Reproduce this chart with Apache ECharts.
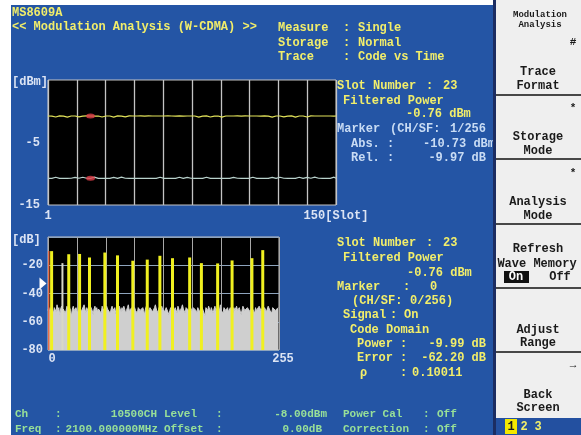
<!DOCTYPE html>
<html><head><meta charset="utf-8">
<script src="https://cdn.jsdelivr.net/npm/echarts/dist/echarts.min.js"></script>
<style>html,body{margin:0;padding:0;background:#fff}#c{width:581px;height:435px}</style>
</head><body><div id="c"></div>
<script>
// ---------- DATA ----------
const slotFirst = 1, slotLast = 150;
const markerSlot = 23;
// Filtered power per slot (dBm)
const filteredPower = [
-0.76,-0.75,-0.77,-0.76,-0.92,-0.76,-0.74,-0.76,-0.77,-0.76,-0.93,-0.75,-0.76,-0.77,-0.76,
-0.75,-0.91,-0.76,-0.77,-0.76,-0.75,-0.76,-0.76,-0.94,-0.77,-0.75,-0.76,-0.76,-0.92,-0.77,
-0.76,-0.75,-0.76,-0.77,-0.93,-0.76,-0.75,-0.76,-0.77,-0.76,-0.91,-0.76,-0.75,-0.77,-0.76,
-0.77,-0.76,-0.92,-0.75,-0.76,-0.77,-0.76,-0.75,-0.94,-0.76,-0.77,-0.76,-0.75,-0.76,-0.93,
-0.76,-0.77,-0.75,-0.76,-0.76,-0.92,-0.77,-0.76,-0.75,-0.76,-0.77,-0.91,-0.76,-0.75,-0.76,
-0.77,-0.76,-0.75,-0.93,-0.76,-0.77,-0.76,-0.75,-0.76,-0.92,-0.76,-0.77,-0.75,-0.76,-0.76,
-0.94,-0.77,-0.76,-0.75,-0.76,-0.77,-0.76,-0.91,-0.75,-0.76,-0.77,-0.76,-0.75,-0.93,-0.76,
-0.77,-0.76,-0.75,-0.76,-0.92,-0.77,-0.76,-0.75,-0.76,-0.77,-0.76,-0.94,-0.75,-0.76,-0.77,
-0.76,-0.75,-0.91,-0.76,-0.77,-0.76,-0.75,-0.76,-0.93,-0.77,-0.76,-0.75,-0.76,-0.77,-0.92,
-0.76,-0.75,-0.77,-0.76,-0.93,-0.76,-0.75,-0.76,-0.77,-0.76,-0.91,-0.76,-0.75,-0.77,-0.76];
// Marker channel (CH/SF 1/256) absolute power per slot (dBm)
const markerChPower = [
-10.73,-10.72,-10.74,-10.73,-10.56,-10.73,-10.74,-10.72,-10.73,-10.55,-10.73,-10.74,-10.72,-10.73,-10.57,
-10.73,-10.72,-10.74,-10.56,-10.73,-10.72,-10.74,-10.73,-10.73,-10.55,-10.72,-10.74,-10.73,-10.73,-10.56,
-10.72,-10.73,-10.74,-10.73,-10.57,-10.72,-10.73,-10.74,-10.55,-10.73,-10.72,-10.73,-10.74,-10.56,-10.73,
-10.74,-10.72,-10.55,-10.73,-10.73,-10.74,-10.72,-10.73,-10.57,-10.73,-10.72,-10.74,-10.73,-10.56,-10.72,
-10.73,-10.74,-10.73,-10.55,-10.72,-10.73,-10.74,-10.73,-10.56,-10.72,-10.73,-10.74,-10.57,-10.73,-10.72,
-10.74,-10.73,-10.55,-10.72,-10.73,-10.74,-10.73,-10.56,-10.72,-10.73,-10.74,-10.73,-10.55,-10.72,-10.73,
-10.74,-10.56,-10.73,-10.72,-10.73,-10.74,-10.57,-10.73,-10.72,-10.73,-10.74,-10.55,-10.73,-10.72,-10.74,
-10.73,-10.56,-10.72,-10.73,-10.74,-10.73,-10.55,-10.72,-10.73,-10.74,-10.73,-10.57,-10.72,-10.73,-10.74,
-10.56,-10.73,-10.72,-10.74,-10.73,-10.55,-10.72,-10.73,-10.74,-10.73,-10.56,-10.72,-10.73,-10.74,-10.57,
-10.73,-10.72,-10.74,-10.55,-10.73,-10.72,-10.73,-10.74,-10.56,-10.73,-10.72,-10.74,-10.73,-10.55,-10.73];
// Code domain: noise floor per code 0..255 (dB)
const codeNoise = [
-52,-50,-53,-51,-49,-52,-54,-50,-51,-53,-48,-52,-50,-55,-51,-49,
-53,-51,-50,-54,-52,-49,-51,-53,-50,-52,-56,-51,-49,-52,-53,-50,
-51,-54,-52,-49,-50,-53,-51,-52,-48,-51,-54,-50,-52,-51,-53,-49,
-50,-52,-55,-51,-49,-52,-50,-53,-51,-50,-52,-54,-49,-51,-52,-50,
-53,-49,-51,-52,-50,-54,-51,-49,-52,-53,-50,-51,-57,-50,-52,-49,
-51,-53,-50,-52,-49,-51,-54,-52,-50,-48,-52,-51,-53,-50,-49,-52,
-50,-52,-51,-54,-50,-49,-52,-51,-53,-50,-52,-55,-51,-49,-50,-53,
-52,-50,-49,-51,-53,-52,-50,-48,-51,-52,-54,-50,-51,-53,-49,-51,
-51,-53,-52,-50,-49,-51,-55,-52,-50,-51,-49,-53,-52,-50,-51,-54,
-49,-51,-53,-52,-50,-48,-51,-52,-54,-50,-51,-49,-52,-53,-50,-51,
-53,-50,-51,-49,-52,-54,-50,-51,-53,-52,-49,-50,-52,-51,-56,-50,
-50,-52,-49,-51,-53,-50,-52,-54,-51,-49,-52,-53,-50,-51,-52,-48,
-52,-51,-54,-50,-49,-52,-51,-50,-53,-52,-50,-49,-51,-54,-50,-52,
-51,-49,-52,-53,-50,-51,-55,-52,-49,-50,-52,-51,-53,-50,-49,-51,
-53,-52,-50,-49,-51,-54,-50,-52,-51,-53,-49,-50,-52,-51,-50,-53,
-50,-51,-53,-52,-49,-50,-52,-51,-54,-50,-51,-49,-52,-53,-51,-50];
// Active channels (code, power dB)
const activeCodes  = [4, 23, 35, 46, 63, 77, 94, 110, 124, 138, 157, 170, 188, 204, 226, 238];
const activePowers = [-10, -12.2, -12, -14.5, -11, -13, -16.8, -16, -13.3, -15, -14.5, -18.5, -18.7, -16.6, -15, -9.3];
const weakCodes  = [16];
const weakPowers = [-18.5];
const markerCode = 0, markerCodePower = -9.99;
const thresholdLevel = -33;
// tick labels
const topYLabels = {'-15': '-15', '-5': '-5'};
const botYLabels = {'-20': '-20', '-40': '-40', '-60': '-60', '-80': '-80'};
const botXLabels = {'0': '0', '256': '255'};

// ---------- STYLE ----------
const MONO = '"Liberation Mono","DejaVu Sans Mono",monospace';
const BLUE = '#2455a5';
const YEL = '#f2ee6a';
const LBL = '#c9dcf4';
const GRN = '#98e098';
const AX = '#dce4f4';
const DARK = '#1a1a1a';
const F12 = 'bold 12px ' + MONO;
const F11 = 'bold 11px ' + MONO;

function T(text, x, y, fill, font, align, z) {
  return {type: 'text', x: x, y: y, z: z || 90,
    style: {text: text, fill: fill, font: font || F12, textAlign: align || 'left', textVerticalAlign: 'middle'}};
}
function R(x, y, w, h, fill, z) {
  return {type: 'rect', z: z || 100, shape: {x: x, y: y, width: w, height: h}, style: {fill: fill}};
}
function L(x1, y1, x2, y2, stroke, w, z) {
  return {type: 'line', z: z || 101, shape: {x1: x1, y1: y1, x2: x2, y2: y2}, style: {stroke: stroke, lineWidth: w}};
}

const slots = [];
for (let s = slotFirst; s <= slotLast; s++) slots.push(String(s));

const graphics = [
  R(0, 0, 581, 5, '#ffffff'), R(0, 0, 11, 435, '#ffffff'),
  // header
  T('MS8609A', 12, 13, YEL), T('<< Modulation Analysis (W-CDMA) >>', 12, 27, YEL),
  T('Measure', 278, 28, YEL), T(':', 343, 28, YEL), T('Single', 358, 28, YEL),
  T('Storage', 278, 43, YEL), T(':', 343, 43, YEL), T('Normal', 358, 43, YEL),
  T('Trace', 278, 57, YEL), T(':', 343, 57, YEL), T('Code vs Time', 358, 57, YEL),
  // unit labels
  T('[dBm]', 12, 82, AX), T('[dB]', 12, 240, AX),
  // top info block
  T('Slot Number', 337, 86, YEL), T(':', 426, 86, YEL), T('23', 443, 86, YEL),
  T('Filtered Power', 343, 101, YEL), T('-0.76 dBm', 406, 114, YEL),
  T('Marker', 337, 129, LBL), T('(CH/SF:', 390, 129, LBL), T('1/256 )', 450, 129, LBL),
  T('Abs.', 351, 144, LBL), T(':', 387, 144, LBL), T('-10.73 dBm', 495, 144, LBL, F12, 'right'),
  T('Rel.', 351, 158, LBL), T(':', 387, 158, LBL), T('-9.97 dB', 486, 158, LBL, F12, 'right'),
  // bottom info block
  T('Slot Number', 337, 243, YEL), T(':', 426, 243, YEL), T('23', 443, 243, YEL),
  T('Filtered Power', 343, 258, YEL), T('-0.76 dBm', 407, 273, YEL),
  T('Marker', 337, 287, YEL), T(':', 403, 287, YEL), T('0', 430, 287, YEL),
  T('(CH/SF:', 352, 301, YEL), T('0/256)', 410, 301, YEL),
  T('Signal', 343, 315, YEL), T(':', 390, 315, YEL), T('On', 404, 315, YEL),
  T('Code Domain', 350, 330, YEL),
  T('Power', 357, 344, YEL), T(':', 400, 344, YEL), T('-9.99 dB', 486, 344, YEL, F12, 'right'),
  T('Error', 357, 358, YEL), T(':', 400, 358, YEL), T('-62.20 dB', 486, 358, YEL, F12, 'right'),
  T('\u03c1', 360, 373, YEL), T(':', 400, 373, YEL), T('0.10011', 412, 373, YEL),
  // status rows
  T('Ch', 15, 414, GRN, F11), T(':', 55, 414, GRN, F11), T('10500CH', 157, 414, GRN, F11, 'right'),
  T('Level', 164, 414, GRN, F11), T(':', 216, 414, GRN, F11), T('-8.00dBm', 327, 414, GRN, F11, 'right'),
  T('Power Cal', 343, 414, GRN, F11), T(':', 423, 414, GRN, F11), T('Off', 437, 414, GRN, F11),
  T('Freq', 15, 429, GRN, F11), T(':', 55, 429, GRN, F11), T('2100.000000MHz', 158, 429, GRN, F11, 'right'),
  T('Offset', 164, 429, GRN, F11), T(':', 216, 429, GRN, F11), T('0.00dB', 322, 429, GRN, F11, 'right'),
  T('Correction', 343, 429, GRN, F11), T(':', 423, 429, GRN, F11), T('Off', 437, 429, GRN, F11),
  // right soft-key panel
  R(493, 0, 3, 435, '#1c2d62', 100),
  R(496, 0, 85, 418, '#efefef', 100),
  R(496, 418, 85, 17, '#2350a0', 100),
  L(496, 95, 581, 95, '#111', 1.5), L(496, 159, 581, 159, '#111', 1.5), L(496, 224, 581, 224, '#111', 1.5),
  L(496, 288, 581, 288, '#111', 1.5), L(496, 352, 581, 352, '#111', 1.5),
  T('Modulation', 540, 15, DARK, 'bold 9px ' + MONO, 'center', 110),
  T('Analysis', 540, 25, DARK, 'bold 9px ' + MONO, 'center', 110),
  T('#', 573, 42, DARK, F11, 'center', 110),
  T('Trace', 538, 72, DARK, F12, 'center', 110), T('Format', 538, 86, DARK, F12, 'center', 110),
  T('*', 573, 108, DARK, F11, 'center', 110),
  T('Storage', 538, 137, DARK, F12, 'center', 110), T('Mode', 538, 151, DARK, F12, 'center', 110),
  T('*', 573, 173, DARK, F11, 'center', 110),
  T('Analysis', 538, 202, DARK, F12, 'center', 110), T('Mode', 538, 216, DARK, F12, 'center', 110),
  T('Refresh', 538, 249, DARK, F12, 'center', 110), T('Wave Memory', 537, 264, DARK, F12, 'center', 110),
  R(504, 271, 25, 12, '#111111', 105),
  T('On', 516, 277, '#ffffff', F12, 'center', 110), T('Off', 560, 277, DARK, F12, 'center', 110),
  T('Adjust', 538, 330, DARK, F12, 'center', 110), T('Range', 538, 343, DARK, F12, 'center', 110),
  T('\u2192', 573, 365, DARK, F11, 'center', 110),
  T('Back', 538, 395, DARK, F12, 'center', 110), T('Screen', 538, 408, DARK, F12, 'center', 110),
  R(505, 419, 12, 15, '#f4e800', 105),
  T('1', 511, 427, DARK, F12, 'center', 110), T('2', 524, 427, YEL, F12, 'center', 110), T('3', 538, 427, YEL, F12, 'center', 110)
];

const axLabel = {color: AX, fontFamily: MONO, fontWeight: 'bold', fontSize: 12};

function codeBars(codes, powers, color, width) {
  return {
    type: 'custom', xAxisIndex: 1, yAxisIndex: 1, z: 4, clip: true,
    data: codes.map((c, i) => [c, powers[i]]),
    renderItem: function (params, api) {
      const top = api.coord([api.value(0), api.value(1)]);
      const bot = api.coord([api.value(0), -80]);
      return {type: 'rect', shape: {x: top[0] - width / 2, y: top[1], width: width, height: bot[1] - top[1]}, style: {fill: color}};
    }
  };
}

const option = {
  backgroundColor: BLUE,
  animation: false,
  grid: [
    {left: 48, top: 80, width: 288, height: 125, show: true, backgroundColor: '#000', borderColor: '#c4c4c4', borderWidth: 1},
    {left: 48, top: 237, width: 231, height: 113, show: true, backgroundColor: '#000', borderColor: '#c4c4c4', borderWidth: 1}
  ],
  xAxis: [
    {gridIndex: 0, type: 'category', data: slots, boundaryGap: false,
     axisLine: {show: false}, axisTick: {show: false}, splitLine: {show: false},
     axisLabel: Object.assign({}, axLabel, {margin: 5,
       interval: function (i) { return i === 0 || i === slots.length - 1; },
       formatter: function (v, i) { return i === slots.length - 1 ? v + '[Slot]' : v; }})},
    {gridIndex: 1, type: 'value', min: 0, max: 256, interval: 32,
     axisLine: {show: false}, axisTick: {show: false},
     splitLine: {show: true, lineStyle: {color: '#a8a8a8', width: 1}},
     axisLabel: Object.assign({}, axLabel, {margin: 3, padding: [0, 0, 0, 8], showMaxLabel: true,
       formatter: function (v) { return botXLabels[String(v)] || ''; }})},
    {gridIndex: 0, type: 'value', min: 0, max: 10, interval: 1, show: true,
     axisLine: {show: false}, axisTick: {show: false}, axisLabel: {show: false},
     splitLine: {show: true, lineStyle: {color: '#c4c4c4', width: 1.3}}}
  ],
  yAxis: [
    {gridIndex: 0, type: 'value', min: -15, max: 5, interval: 5,
     axisLine: {show: false}, axisTick: {show: false}, splitLine: {show: false},
     axisLabel: Object.assign({}, axLabel, {margin: 8, formatter: function (v) { return topYLabels[String(v)] || ''; }})},
    {gridIndex: 1, type: 'value', min: -80, max: 0, interval: 20,
     axisLine: {show: false}, axisTick: {show: false},
     splitLine: {show: true, lineStyle: {color: '#8ea4bc', width: 1}},
     axisLabel: Object.assign({}, axLabel, {margin: 5, formatter: function (v) { return botYLabels[String(v)] || ''; }})}
  ],
  series: [
    {type: 'line', xAxisIndex: 0, yAxisIndex: 0, data: filteredPower, showSymbol: false,
     lineStyle: {color: '#e2e25a', width: 1.2}, itemStyle: {color: '#e2e25a'}, z: 3},
    {type: 'line', xAxisIndex: 0, yAxisIndex: 0, data: markerChPower, showSymbol: false,
     lineStyle: {color: '#b9d2cc', width: 1.2}, itemStyle: {color: '#b9d2cc'}, z: 3},
    {type: 'scatter', xAxisIndex: 0, yAxisIndex: 0, symbol: 'circle', symbolSize: [9, 5], z: 5,
     itemStyle: {color: '#e0404a'},
     data: [[markerSlot - slotFirst, filteredPower[markerSlot - slotFirst]], [markerSlot - slotFirst, markerChPower[markerSlot - slotFirst]]]},
    {type: 'line', xAxisIndex: 1, yAxisIndex: 1, data: codeNoise.map((v, i) => [i, v]), showSymbol: false, z: 3,
     lineStyle: {color: '#cfcfcf', width: 1}, itemStyle: {color: '#cfcfcf'},
     areaStyle: {color: '#cfcfcf', opacity: 1, origin: 'start'},
     markPoint: {silent: true, label: {show: false},
       data: [{coord: [0, thresholdLevel], symbol: 'triangle', symbolSize: [12, 7], symbolRotate: -90, symbolOffset: [-5, 0], itemStyle: {color: '#ffffff'}}]}},
    codeBars(weakCodes, weakPowers, '#d8d8c8', 2),
    codeBars(activeCodes, activePowers, '#f0f020', 3),
    codeBars([markerCode], [markerCodePower], '#e8704c', 3)
  ],
  graphic: {elements: graphics}
};

const chart = echarts.init(document.getElementById('c'), null, {renderer: 'canvas'});
chart.setOption(option);
</script>
</body></html>
